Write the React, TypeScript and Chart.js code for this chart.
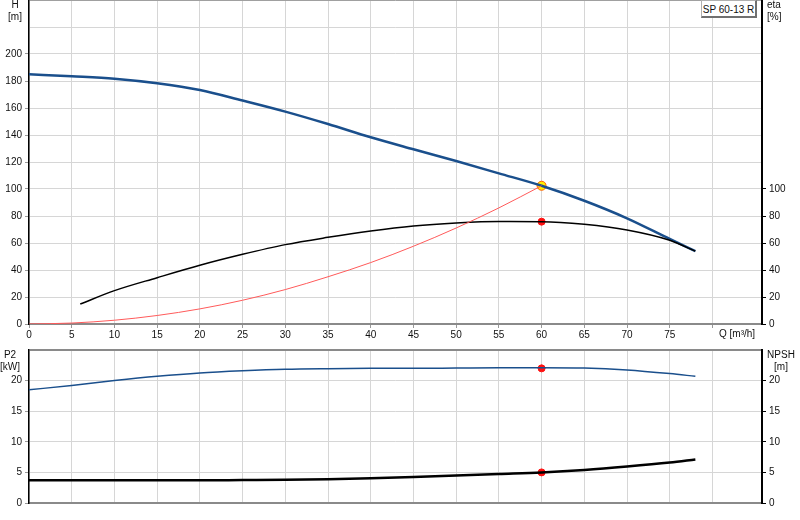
import React, { useEffect, useRef } from "react";
import { Chart, registerables } from "chart.js";

Chart.register(...registerables);

// ---- data ----
const flowH = [0, 5, 10, 15, 20, 25, 30, 35, 40, 45, 50, 55, 60, 65, 70, 75, 78];
const headH = [185, 183.5, 181.7, 178.3, 173.3, 165.5, 157.3, 148.1, 138.3, 129.4, 120.7, 111.6, 102.4, 91.3, 78.3, 63, 54];

const flowEta = [6, 10, 15, 20, 25, 30, 35, 40, 45, 50, 55, 60, 65, 70, 75, 78];
const etaValues = [14.8, 24.7, 34.3, 43.5, 51.6, 58.8, 64.2, 68.9, 72.6, 74.8, 75.9, 75.8, 73.8, 69.6, 62, 54];

const flowSys = [0, 5, 10, 15, 20, 25, 30, 35, 40, 45, 50, 55, 60];
const sysHead = [0, 0.7, 2.8, 6.3, 11.2, 17.6, 25.5, 35, 45.5, 57.6, 71.1, 86, 102.4];

const flowP = [0, 5, 10, 15, 20, 25, 30, 35, 40, 45, 50, 55, 60, 65, 70, 75, 78];
const p2Values = [18.5, 19.2, 20.0, 20.7, 21.25, 21.6, 21.85, 21.95, 22, 22, 22.05, 22.1, 22.1, 22.05, 21.75, 21.15, 20.7];
const npshValues = [3.7, 3.7, 3.7, 3.7, 3.7, 3.75, 3.8, 3.9, 4.05, 4.25, 4.5, 4.75, 5.0, 5.4, 5.95, 6.6, 7.1];

const dutyQ = 60;
const dutyH = 102.4;
const dutyEta = 75.8;
const dutyP2 = 22;
const dutyNpsh = 5.0;

const xTicksStep = 5;
const xMax = 85.8;
const hMax = 240;
const hLabelMax = 200;
const etaLabelMax = 100;
const pMax = 25;
const pLabelMax = 20;

const FONT = "'Liberation Sans', Arial, sans-serif";
const BLUE = "#1a4f8c";
const GRID = "#d6d6d6";

const pts = (xs: number[], ys: number[]) => xs.map((x, i) => ({ x, y: ys[i] }));

const keepSteps = (scale: any) => {
  scale.ticks = scale.ticks.filter((t: any) => Math.abs(t.value / xTicksStep - Math.round(t.value / xTicksStep)) < 1e-6);
};

const fixW = (w: number) => (s: any) => {
  s.width = w;
  s.paddingTop = 0;
  s.paddingBottom = 0;
};
const fixH = (h: number) => (s: any) => {
  s.height = h;
  s.paddingLeft = 0;
  s.paddingRight = 0;
};

export default function App() {
  const topRef = useRef<HTMLCanvasElement | null>(null);
  const botRef = useRef<HTMLCanvasElement | null>(null);

  useEffect(() => {
    const font = { family: FONT, size: 10 };
    const top = new Chart(topRef.current!, {
      type: "line",
      data: {
        datasets: [
          {
            data: pts(flowSys, sysHead),
            borderColor: "#ff5a5a",
            borderWidth: 1,
            pointRadius: 0,
            cubicInterpolationMode: "monotone",
            yAxisID: "y",
          },
          {
            data: pts(flowEta, etaValues),
            borderColor: "#000000",
            borderWidth: 1.5,
            pointRadius: 0,
            cubicInterpolationMode: "monotone",
            yAxisID: "y2",
          },
          {
            data: pts(flowH, headH),
            borderColor: BLUE,
            borderWidth: 2.5,
            pointRadius: 0,
            cubicInterpolationMode: "monotone",
            yAxisID: "y",
          },
          {
            data: [{ x: dutyQ, y: dutyEta }],
            showLine: false,
            pointRadius: 3.5,
            pointBackgroundColor: "#ff1010",
            pointBorderColor: "#ff1010",
            yAxisID: "y2",
          },
          {
            data: [{ x: dutyQ, y: dutyH }],
            showLine: false,
            pointRadius: 4.5,
            pointBorderWidth: 1,
            pointBackgroundColor: "#ffee00",
            pointBorderColor: "#ff6000",
            yAxisID: "y",
          },
        ],
      },
      options: {
        responsive: false,
        animation: false,
        events: [],
        layout: { autoPadding: false, padding: { top: 0, left: 0, right: 0, bottom: 0 } },
        plugins: { legend: { display: false }, tooltip: { enabled: false }, title: { display: false } },
        scales: {
          x: {
            type: "linear",
            min: 0,
            max: xMax,
            afterBuildTicks: keepSteps,
            afterFit: fixH(21),
            ticks: {
              stepSize: xTicksStep,
              autoSkip: false,
              maxRotation: 0,
              padding: 1,
              color: "#111",
              font,
              callback: (v: any) => (Number(v) <= 75 ? String(v) : ""),
            },
            grid: { color: GRID, lineWidth: 1, tickLength: 4, tickColor: "#999" },
            border: { color: "#8a8a8a", width: 2 },
          },
          y: {
            position: "left",
            min: 0,
            max: hMax,
            afterFit: fixW(29),
            ticks: {
              stepSize: 20,
              padding: 3,
              color: "#111",
              font,
              callback: (v: any) => (Number(v) <= hLabelMax ? String(v) : ""),
            },
            grid: {
              color: (c: any) => (c.tick && c.tick.value === hMax ? "#a0a0a0" : GRID),
              lineWidth: 1,
              tickLength: 4,
              tickColor: (c: any) => (c.tick && c.tick.value > hLabelMax ? "rgba(0,0,0,0)" : "#999"),
            },
            border: { color: "#000", width: 1.5 },
          },
          y2: {
            position: "right",
            min: 0,
            max: hMax,
            afterFit: fixW(38),
            ticks: {
              stepSize: 20,
              padding: 3,
              color: "#111",
              font,
              callback: (v: any) => (Number(v) <= etaLabelMax ? String(v) : ""),
            },
            grid: {
              drawOnChartArea: false,
              tickLength: 4,
              tickColor: (c: any) => (c.tick && c.tick.value > etaLabelMax ? "rgba(0,0,0,0)" : "#000"),
            },
            border: { color: "#000", width: 2 },
          },
        },
      },
    } as any);

    const bot = new Chart(botRef.current!, {
      type: "line",
      data: {
        datasets: [
          {
            data: pts(flowP, p2Values),
            borderColor: BLUE,
            borderWidth: 1.5,
            pointRadius: 0,
            cubicInterpolationMode: "monotone",
            yAxisID: "y",
          },
          {
            data: pts(flowP, npshValues),
            borderColor: "#000",
            borderWidth: 2.5,
            pointRadius: 0,
            cubicInterpolationMode: "monotone",
            yAxisID: "y2",
          },
          {
            data: [{ x: dutyQ, y: dutyP2 }],
            showLine: false,
            pointRadius: 3.5,
            pointBackgroundColor: "#ff1010",
            pointBorderColor: "#ff1010",
            yAxisID: "y",
          },
          {
            data: [{ x: dutyQ, y: dutyNpsh }],
            showLine: false,
            pointRadius: 3.5,
            pointBackgroundColor: "#ff1010",
            pointBorderColor: "#ff1010",
            yAxisID: "y2",
          },
        ],
      },
      options: {
        responsive: false,
        animation: false,
        events: [],
        layout: { autoPadding: false, padding: { top: 5, left: 0, right: 0, bottom: 0 } },
        plugins: { legend: { display: false }, tooltip: { enabled: false }, title: { display: false } },
        scales: {
          x: {
            type: "linear",
            min: 0,
            max: xMax,
            afterBuildTicks: keepSteps,
            afterFit: fixH(17),
            ticks: { stepSize: xTicksStep, display: false },
            grid: { color: GRID, lineWidth: 1, drawTicks: false },
            border: { color: "#8a8a8a", width: 2 },
          },
          y: {
            position: "left",
            min: 0,
            max: pMax,
            afterFit: fixW(29),
            ticks: {
              stepSize: 5,
              padding: 3,
              color: "#111",
              font,
              callback: (v: any) => (Number(v) <= pLabelMax ? String(v) : ""),
            },
            grid: {
              color: (c: any) => (c.tick && c.tick.value === pMax ? "#8a8a8a" : GRID),
              lineWidth: (c: any) => (c.tick && c.tick.value === pMax ? 2 : 1),
              tickLength: 4,
              tickColor: (c: any) => (c.tick && c.tick.value > pLabelMax ? "rgba(0,0,0,0)" : "#999"),
            },
            border: { color: "#000", width: 1.5 },
          },
          y2: {
            position: "right",
            min: 0,
            max: pMax,
            afterFit: fixW(38),
            ticks: {
              stepSize: 5,
              padding: 3,
              color: "#111",
              font,
              callback: (v: any) => (Number(v) <= pLabelMax ? String(v) : ""),
            },
            grid: {
              drawOnChartArea: false,
              tickLength: 4,
              tickColor: (c: any) => (c.tick && c.tick.value > pLabelMax ? "rgba(0,0,0,0)" : "#000"),
            },
            border: { color: "#000", width: 2 },
          },
        },
      },
    } as any);

    return () => {
      top.destroy();
      bot.destroy();
    };
  }, []);

  const txt: React.CSSProperties = {
    position: "absolute",
    fontFamily: FONT,
    fontSize: 10,
    lineHeight: "12px",
    color: "#111",
    whiteSpace: "nowrap",
  };

  return (
    <div style={{ position: "absolute", left: 0, top: 0, width: 800, height: 520, background: "#fff", overflow: "hidden" }}>
      <canvas ref={topRef} width={800} height={345} style={{ position: "absolute", left: 0, top: 0, display: "block" }} />
      <canvas ref={botRef} width={800} height={175} style={{ position: "absolute", left: 0, top: 345, display: "block" }} />

      <div style={{ ...txt, left: 4, top: -1, width: 22, textAlign: "center" }}>H<br />[m]</div>
      <div style={{ ...txt, left: 767, top: -1 }}>eta<br />[%]</div>
      <div style={{ ...txt, left: 719, top: 328 }}>Q [m³/h]</div>
      <div style={{ ...txt, left: 0, top: 349, width: 20, textAlign: "center" }}>P2<br />[kW]</div>
      <div style={{ ...txt, left: 766, top: 349, width: 30, textAlign: "center" }}>NPSH<br />[m]</div>

      <div
        style={{
          ...txt,
          left: 701,
          top: 0,
          width: 56,
          height: 18,
          lineHeight: "18px",
          textAlign: "center",
          background: "#fff",
          borderLeft: "1px solid #b0b0b0",
          borderTop: "1px solid #b0b0b0",
          borderRight: "2px solid #707070",
          borderBottom: "2px solid #707070",
          boxSizing: "border-box",
        }}
      >
        SP 60-13 R
      </div>
    </div>
  );
}
